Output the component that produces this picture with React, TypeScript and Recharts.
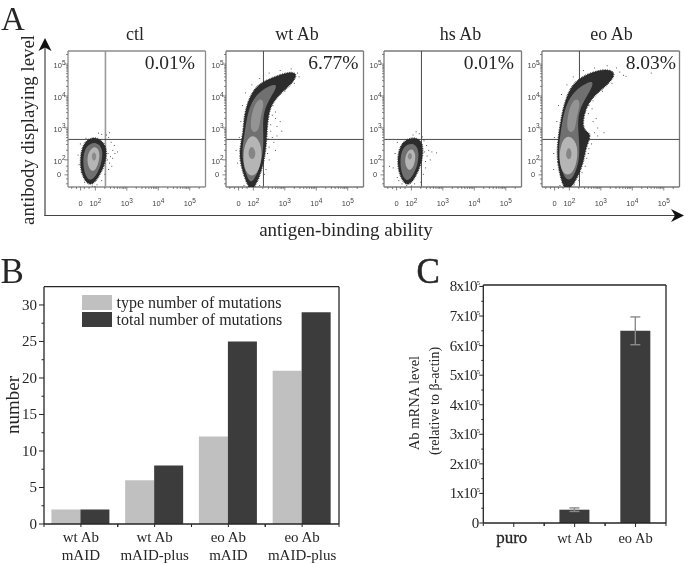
import {
  Bar,
  BarChart,
  ErrorBar,
  Legend,
  ReferenceLine,
  Scatter,
  ScatterChart,
  XAxis,
  YAxis,
} from 'recharts'

const SERIF = '"Liberation Serif", serif'
const SANS = '"Liberation Sans", sans-serif'
const INK = '#262626'

type Pair = [number, number]

// flow plots: axis values are in log decades, 2 = 10^2, 5 = 10^5
const FLOW_X_DOMAIN = [1.13, 5.5]
const FLOW_Y_DOMAIN = [1.15, 5.41]
const ZERO_POS = 1.53
const FLOW_LABELS: Record<number, string> = { 2: '2', 3: '3', 4: '4', 5: '5' }
const DECADE_STEPS = [0.3, 0.48, 0.6, 0.7, 0.78, 0.85, 0.9, 0.95]
const FLOW_TICKS = [
  1.25, 1.4, ZERO_POS, 1.65, 1.8, 2, 3, 4, 5,
  ...[2, 3, 4].flatMap((d) => DECADE_STEPS.map((s) => d + s)),
  5.3,
]
const GATE_X = 2.32
const GATE_Y = 2.64

const ctlOuter: Pair[] = [[2.05, 2.72], [2.36, 2.46], [2.35, 1.98], [2.14, 1.5], [1.84, 1.12], [1.57, 1.48], [1.5, 2.0], [1.6, 2.46], [1.78, 2.66]]
const ctlBody: Pair[] = [[2.02, 2.58], [2.25, 2.36], [2.2, 1.88], [2.02, 1.48], [1.8, 1.3], [1.63, 1.62], [1.6, 2.12], [1.72, 2.46]]
const ctlLight: Pair[] = [[1.98, 2.48], [2.16, 2.26], [2.1, 1.85], [1.93, 1.58], [1.75, 1.78], [1.73, 2.2]]
const ctlCore: Pair[] = [[1.95, 2.3], [2.06, 2.12], [1.97, 1.92], [1.85, 2.08]]
const ctlSpecks: Pair[] = [[2.42, 2.7], [2.5, 2.55], [2.55, 2.3], [2.62, 2.2], [2.7, 2.25], [2.48, 2.1], [2.45, 1.9], [2.4, 2.2], [2.55, 2.05], [2.35, 2.78], [2.2, 2.8], [2.1, 2.84], [2.45, 2.85], [2.42, 1.7], [2.3, 1.55], [2.2, 1.35], [2.05, 1.22], [1.9, 1.18], [1.65, 1.3], [1.55, 1.6], [1.48, 1.85], [1.45, 2.15], [1.52, 2.5], [1.7, 2.68], [2.6, 2.45], [2.38, 2.0], [2.52, 1.8], [1.98, 1.16]]

const wtOuter: Pair[] = [[1.84, 1.12], [1.6, 1.79], [1.55, 2.31], [1.68, 2.83], [1.7, 3.35], [1.85, 3.92], [2.12, 4.36], [2.62, 4.58], [3.17, 4.78], [3.42, 4.68], [3.2, 4.36], [2.85, 4.08], [2.55, 3.72], [2.45, 3.25], [2.42, 2.63], [2.37, 2.1], [2.2, 1.45], [1.98, 1.05]]
const wtBody: Pair[] = [[1.84, 1.3], [1.6, 2.1], [1.72, 2.8], [1.8, 3.4], [1.97, 3.88], [2.28, 4.22], [2.85, 4.45], [2.55, 3.96], [2.33, 3.55], [2.3, 3.05], [2.33, 2.5], [2.25, 1.85], [2.0, 1.3]]
const wtBand: Pair[] = [[1.88, 2.85], [1.94, 3.5], [2.15, 3.95], [2.38, 3.85], [2.22, 3.35], [2.18, 2.85]]
const wtLight: Pair[] = [[1.97, 2.85], [2.24, 2.55], [2.28, 2.05], [2.14, 1.55], [1.86, 1.45], [1.66, 1.85], [1.7, 2.5]]
const wtCore: Pair[] = [[1.97, 2.45], [2.1, 2.22], [2.0, 1.98], [1.84, 2.08], [1.85, 2.35]]
const wtSpecks: Pair[] = [[2.6, 3.4], [2.75, 3.05], [2.9, 2.9], [2.85, 3.2], [2.55, 2.9], [2.7, 2.3], [2.5, 2.4], [2.65, 2.55], [2.45, 2.2], [2.5, 2.0], [2.4, 2.8], [2.55, 3.1], [2.7, 3.3], [2.45, 3.55], [2.62, 3.7], [2.7, 3.5], [2.48, 2.65], [2.6, 2.7], [2.75, 2.75], [2.4, 1.7], [2.35, 1.55], [2.2, 1.2], [1.5, 1.9], [1.45, 2.3], [1.55, 2.7], [1.6, 3.2], [1.65, 3.7], [1.75, 4.1], [1.95, 4.35], [2.2, 4.55], [2.5, 4.72], [2.85, 4.8], [3.2, 4.85], [3.4, 4.72], [3.45, 4.6], [3.3, 4.4], [3.0, 4.15], [1.7, 1.2], [1.85, 1.16], [2.05, 1.18]]

const hsOuter: Pair[] = [[2.13, 2.72], [2.38, 2.52], [2.36, 2.0], [2.14, 1.45], [1.86, 1.12], [1.61, 1.52], [1.55, 2.03], [1.64, 2.44], [1.84, 2.64]]
const hsBody: Pair[] = [[2.05, 2.55], [2.26, 2.32], [2.2, 1.82], [2.02, 1.45], [1.83, 1.3], [1.66, 1.62], [1.64, 2.12], [1.76, 2.44]]
const hsLight: Pair[] = [[2.0, 2.4], [2.15, 2.2], [2.1, 1.84], [1.95, 1.62], [1.8, 1.8], [1.79, 2.16]]
const hsCore: Pair[] = [[1.95, 2.27], [2.05, 2.12], [1.96, 1.96], [1.85, 2.1]]
const hsSpecks: Pair[] = [[2.4, 2.6], [2.48, 2.45], [2.55, 2.3], [2.65, 2.25], [2.8, 2.22], [2.5, 2.12], [2.45, 1.95], [2.42, 2.25], [2.6, 2.0], [2.25, 2.82], [2.15, 2.88], [2.05, 2.78], [2.35, 2.72], [2.45, 1.75], [2.38, 1.55], [2.3, 1.3], [2.1, 1.25], [1.85, 1.2], [1.7, 1.25], [1.55, 1.45], [1.42, 1.75], [1.3, 1.8], [1.48, 2.2], [1.55, 2.55], [1.6, 1.35], [2.0, 1.18]]

const eoOuter: Pair[] = [[1.79, 1.12], [1.6, 1.98], [1.63, 2.6], [1.74, 3.33], [1.9, 4.0], [2.17, 4.46], [2.62, 4.72], [3.17, 4.86], [3.52, 4.72], [3.2, 4.34], [2.82, 4.05], [2.55, 3.7], [2.42, 3.23], [2.46, 2.9], [2.72, 2.82], [2.52, 2.4], [2.47, 1.98], [2.25, 1.42], [2.0, 1.05]]
const eoBody: Pair[] = [[1.88, 1.28], [1.62, 2.08], [1.72, 2.85], [1.82, 3.5], [2.02, 3.98], [2.33, 4.3], [2.85, 4.55], [2.6, 4.05], [2.36, 3.68], [2.26, 3.25], [2.3, 2.7], [2.34, 2.05], [2.15, 1.45]]
const eoBand: Pair[] = [[1.9, 2.85], [1.95, 3.5], [2.15, 3.95], [2.38, 3.85], [2.22, 3.33], [2.18, 2.85]]
const eoLight: Pair[] = [[1.95, 2.82], [2.25, 2.55], [2.27, 2.05], [2.12, 1.55], [1.82, 1.5], [1.66, 1.95], [1.72, 2.52]]
const eoCore: Pair[] = [[1.97, 2.45], [2.1, 2.24], [2.02, 1.95], [1.85, 2.12]]
const eoSpecks: Pair[] = [[2.6, 3.45], [2.75, 3.2], [2.9, 3.0], [3.1, 2.85], [2.85, 3.3], [2.7, 2.5], [2.8, 2.85], [2.9, 2.75], [2.6, 2.2], [2.55, 2.05], [2.62, 2.35], [2.5, 1.8], [2.4, 1.6], [2.3, 1.35], [2.15, 1.22], [1.7, 1.2], [1.85, 1.15], [1.5, 1.7], [1.5, 2.2], [1.52, 2.7], [1.6, 3.2], [1.65, 3.7], [1.75, 4.05], [1.92, 4.35], [2.12, 4.6], [2.45, 4.8], [2.8, 4.88], [3.2, 4.95], [3.5, 4.88], [3.6, 4.75], [3.72, 4.65], [3.35, 4.4], [3.05, 4.15], [2.75, 3.85], [2.62, 3.7], [2.5, 3.5], [2.72, 3.6], [4.6, 4.72], [3.8, 4.62]]

// panel B
const mutationGroups = ['wt Ab|mAID', 'wt Ab|mAID-plus', 'eo Ab|mAID', 'eo Ab|mAID-plus']
const typeMutations = [2, 6, 12, 21]
const totalMutations = [2, 8, 25, 29]
const mutationTicks = [0, 2.5, 5, 7.5, 10, 12.5, 15, 17.5, 20, 22.5, 25, 27.5, 30]
const MUTATION_MAX = 32.5

// panel C
const mrnaGroups = ['puro', 'wt Ab', 'eo Ab']
const mrnaLevels = [0, 45000, 650000]
const mrnaErrors = [null, 6000, 47000]
const mrnaTicks = [0, 50000, 100000, 150000, 200000, 250000, 300000, 350000, 400000, 450000, 500000, 550000, 600000, 650000, 700000, 750000, 800000]
const MRNA_MAX = 805000

const mutationData = mutationGroups.map((group, i) => ({
  group,
  type: typeMutations[i],
  total: totalMutations[i],
}))
const mrnaData = mrnaGroups.map((group, i) => ({ group, level: mrnaLevels[i], err: mrnaErrors[i] }))

const toPoints = (pairs: Pair[]) => pairs.map(([x, y]) => ({ x, y }))

function FlowXTick({ x, y, payload }: any) {
  const v = payload.value
  const sup = FLOW_LABELS[v]
  const major = sup !== undefined || v === ZERO_POS
  return (
    <g fontFamily={SANS} fontSize={7.5} fill="#444">
      <line x1={x} x2={x} y1={y} y2={y + (major ? 3.5 : 2)} stroke="#555" strokeWidth={0.7} />
      {v === ZERO_POS && <text x={x} y={y + 19} textAnchor="middle">0</text>}
      {sup && (
        <text x={x} y={y + 19} textAnchor="middle">
          10<tspan dy={-3.5} fontSize={6.5}>{sup}</tspan>
        </text>
      )}
    </g>
  )
}

function FlowYTick({ x, y, payload }: any) {
  const v = payload.value
  const sup = FLOW_LABELS[v]
  const major = sup !== undefined || v === ZERO_POS
  return (
    <g fontFamily={SANS} fontSize={7.5} fill="#444">
      <line x1={x} x2={x - (major ? 3.5 : 2)} y1={y} y2={y} stroke="#555" strokeWidth={0.7} />
      {v === ZERO_POS && <text x={x - 9} y={y + 2.5} textAnchor="middle">0</text>}
      {sup && (
        <text x={x - 2.5} y={y + 4} textAnchor="end">
          10<tspan dy={-3.5} fontSize={6.5}>{sup}</tspan>
        </text>
      )}
    </g>
  )
}

interface FlowLayer {
  pairs: Pair[]
  fill: string
  edge?: boolean
}

function FlowPlot({ left, layers, specks, frame }: { left: number; layers: FlowLayer[]; specks: Pair[]; frame: string }) {
  const thick = frame === '#8c8c8c'
  return (
    <div style={{ position: 'absolute', left: left - 30, top: 45.5 }}>
      <ScatterChart width={170.5} height={170} margin={{ top: 5, right: 3, left: 0, bottom: 0 }}>
        <XAxis
          type="number"
          dataKey="x"
          domain={FLOW_X_DOMAIN}
          ticks={FLOW_TICKS}
          interval={0}
          allowDataOverflow
          height={29}
          tickSize={0}
          tickMargin={0}
          tickLine={false}
          tick={FlowXTick}
          stroke={frame}
          strokeWidth={1.3}
        />
        <YAxis
          type="number"
          dataKey="y"
          domain={FLOW_Y_DOMAIN}
          ticks={FLOW_TICKS.filter((t) => t < 5.35)}
          interval={0}
          allowDataOverflow
          width={30}
          tickSize={0}
          tickMargin={0}
          tickLine={false}
          tick={FlowYTick}
          stroke={frame}
          strokeWidth={1.3}
        />
        <ReferenceLine y={FLOW_Y_DOMAIN[1]} stroke={frame} strokeWidth={1.3} />
        <ReferenceLine x={FLOW_X_DOMAIN[1]} stroke={frame} strokeWidth={1.3} />
        <Scatter
          data={toPoints(specks)}
          isAnimationActive={false}
          shape={(p: any) => <rect x={p.cx - 0.4} y={p.cy - 0.4} width={0.9} height={0.9} fill="#333" />}
        />
        {layers.map((layer, i) => (
          <Scatter
            key={i}
            data={toPoints(layer.pairs)}
            isAnimationActive={false}
            shape={() => <g />}
            lineJointType="basisClosed"
            line={{
              fill: layer.fill,
              stroke: layer.edge ? '#222' : 'none',
              strokeWidth: layer.edge ? 1.6 : 0,
              strokeDasharray: layer.edge ? '0.7 1' : undefined,
            }}
          />
        ))}
        <ReferenceLine x={GATE_X} stroke={thick ? '#999' : '#4a4a4a'} strokeWidth={thick ? 1.6 : 1} />
        <ReferenceLine y={GATE_Y} stroke="#4a4a4a" strokeWidth={1} />
      </ScatterChart>
    </div>
  )
}

function MutationTick({ x, y, payload }: any) {
  const [a, b] = String(payload.value).split('|')
  const half = 36.9
  return (
    <g fontFamily={SERIF} fontSize={15} fill={INK} textAnchor="middle">
      <line x1={x} x2={x} y1={y} y2={y + 3} stroke={INK} />
      <line x1={x - half} x2={x - half} y1={y} y2={y + 3} stroke={INK} />
      <line x1={x + half} x2={x + half} y1={y} y2={y + 3} stroke={INK} />
      <text x={x} y={y + 18}>{a}</text>
      <text x={x} y={y + 36}>{b}</text>
    </g>
  )
}

function MutationYTick({ x, y, payload }: any) {
  const major = payload.value % 5 === 0
  return (
    <g>
      <line x1={x} x2={x - (major ? 5 : 2.5)} y1={y} y2={y} stroke={INK} />
      {major && (
        <text x={x - 7} y={y + 5} textAnchor="end" fontFamily={SERIF} fontSize={15} fill={INK}>
          {payload.value}
        </text>
      )}
    </g>
  )
}

function MrnaTick({ x, y, payload }: any) {
  const half = 30.45
  const puro = payload.value === 'puro'
  return (
    <g fontFamily={SERIF} fill={INK} textAnchor="middle">
      <line x1={x} x2={x} y1={y} y2={y + 4} stroke={INK} />
      <line x1={x - half} x2={x - half} y1={y} y2={y + 3} stroke={INK} />
      <line x1={x + half} x2={x + half} y1={y} y2={y + 3} stroke={INK} />
      <text
        x={puro ? x - 2 : x}
        y={y + 20}
        fontSize={puro ? 17 : 14.5}
        stroke={puro ? INK : 'none'}
        strokeWidth={puro ? 0.3 : 0}
      >
        {payload.value}
      </text>
    </g>
  )
}

function MrnaYTick({ x, y, payload }: any) {
  const major = payload.value % 100000 === 0
  const n = payload.value / 100000
  return (
    <g>
      <line x1={x} x2={x - (major ? 4 : 2)} y1={y} y2={y} stroke={INK} />
      {major && (
        <text
          x={x - 4}
          y={y + 5}
          textAnchor="end"
          fontFamily={SERIF}
          fontSize={15}
          fill={INK}
          letterSpacing={n === 0 ? 0 : -0.8}
        >
          {n === 0 ? '0' : `${n}x10`}
          {n !== 0 && <tspan dy={-6} fontSize={7}>5</tspan>}
        </text>
      )}
    </g>
  )
}

function MutationLegend({ payload }: any) {
  return (
    <div style={{ fontFamily: SERIF, fontSize: 16, color: INK, lineHeight: '17px' }}>
      {(payload ?? []).map((item: any) => (
        <div key={item.value} style={{ display: 'flex', alignItems: 'center', height: 16.7 }}>
          <span style={{ width: 30, height: 15, background: item.color, marginRight: 5, display: 'inline-block' }} />
          {item.value}
        </div>
      ))}
    </div>
  )
}

const titles = [
  { text: 'ctl', x: 135 },
  { text: 'wt Ab', x: 297 },
  { text: 'hs Ab', x: 460.5 },
  { text: 'eo Ab', x: 611.5 },
]
const percents = [
  { text: '0.01%', x: 195 },
  { text: '6.77%', x: 358.5 },
  { text: '0.01%', x: 514 },
  { text: '8.03%', x: 676 },
]

export default function App() {
  return (
    <div style={{ position: 'absolute', left: 0, top: 0, width: 685, height: 564, background: '#fff', overflow: 'hidden', filter: 'blur(0.35px)' }}>
      <FlowPlot
        left={67.5}
        frame="#8c8c8c"
        specks={ctlSpecks}
        layers={[
          { pairs: ctlOuter, fill: '#2c2c2c', edge: true },
          { pairs: ctlBody, fill: '#707070' },
          { pairs: ctlLight, fill: '#b5b5b5' },
          { pairs: ctlCore, fill: '#8a8a8a' },
        ]}
      />
      <FlowPlot
        left={226}
        frame="#7a7a7a"
        specks={wtSpecks}
        layers={[
          { pairs: wtOuter, fill: '#2c2c2c', edge: true },
          { pairs: wtBody, fill: '#707070' },
          { pairs: wtBand, fill: '#949494' },
          { pairs: wtLight, fill: '#b5b5b5' },
          { pairs: wtCore, fill: '#858585' },
        ]}
      />
      <FlowPlot
        left={383.5}
        frame="#7a7a7a"
        specks={hsSpecks}
        layers={[
          { pairs: hsOuter, fill: '#2c2c2c', edge: true },
          { pairs: hsBody, fill: '#707070' },
          { pairs: hsLight, fill: '#b5b5b5' },
          { pairs: hsCore, fill: '#8a8a8a' },
        ]}
      />
      <FlowPlot
        left={542}
        frame="#7a7a7a"
        specks={eoSpecks}
        layers={[
          { pairs: eoOuter, fill: '#2c2c2c', edge: true },
          { pairs: eoBody, fill: '#707070' },
          { pairs: eoBand, fill: '#949494' },
          { pairs: eoLight, fill: '#b5b5b5' },
          { pairs: eoCore, fill: '#858585' },
        ]}
      />

      <div style={{ position: 'absolute', left: 0, top: 280 }}>
        <BarChart
          width={345}
          height={284}
          data={mutationData}
          margin={{ top: 6.7, right: 5, left: 0, bottom: 0 }}
          barGap={0}
          barCategoryGap={7.4}
        >
          <XAxis
            dataKey="group"
            interval={0}
            height={40}
            tickSize={0}
            tickMargin={0}
            tickLine={false}
            tick={MutationTick}
            stroke={INK}
            strokeWidth={1.3}
          />
          <YAxis
            domain={[0, MUTATION_MAX]}
            ticks={mutationTicks}
            interval={0}
            allowDataOverflow
            width={44}
            tickSize={0}
            tickMargin={0}
            tickLine={false}
            tick={MutationYTick}
            stroke={INK}
            strokeWidth={1.3}
          />
          <YAxis yAxisId="right" orientation="right" width={1} tick={false} tickLine={false} stroke={INK} strokeWidth={1.3} />
          <ReferenceLine y={MUTATION_MAX} stroke={INK} strokeWidth={1.3} />
          <Legend
            layout="vertical"
            align="center"
            verticalAlign="middle"
            itemSorter={null}
            content={MutationLegend}
            wrapperStyle={{ left: 81.5, top: 14, width: 220 }}
          />
          <Bar dataKey="type" name="type number of mutations" fill="#c0c0c0" isAnimationActive={false} />
          <Bar dataKey="total" name="total number of mutations" fill="#3c3c3c" isAnimationActive={false} />
        </BarChart>
      </div>

      <div style={{ position: 'absolute', left: 420, top: 270 }}>
        <BarChart
          width={252}
          height={294}
          data={mrnaData}
          margin={{ top: 15, right: 5, left: 0, bottom: 0 }}
          barCategoryGap="25%"
        >
          <XAxis
            dataKey="group"
            interval={0}
            height={41}
            tickSize={0}
            tickMargin={0}
            tickLine={false}
            tick={MrnaTick}
            stroke={INK}
            strokeWidth={1.3}
          />
          <YAxis
            domain={[0, MRNA_MAX]}
            ticks={mrnaTicks}
            interval={0}
            allowDataOverflow
            width={63.3}
            tickSize={0}
            tickMargin={0}
            tickLine={false}
            tick={MrnaYTick}
            stroke={INK}
            strokeWidth={1.3}
          />
          <YAxis yAxisId="right" orientation="right" width={1} tick={false} tickLine={false} stroke={INK} strokeWidth={1.3} />
          <ReferenceLine y={MRNA_MAX} stroke={INK} strokeWidth={1.3} />
          <Bar dataKey="level" fill="#3c3c3c" isAnimationActive={false}>
            <ErrorBar dataKey="err" width={5} stroke="#8a8a8a" strokeWidth={1.4} isAnimationActive={false} />
          </Bar>
        </BarChart>
      </div>

      <svg width={685} height={564} style={{ position: 'absolute', left: 0, top: 0, pointerEvents: 'none' }} fontFamily={SERIF} fill={INK}>
        <text x={1} y={29.6} fontSize={33}>A</text>
        <text x={0.5} y={282.5} fontSize={35}>B</text>
        <text x={416.5} y={283} fontSize={35} stroke={INK} strokeWidth={0.5}>C</text>
        {titles.map((t) => (
          <text key={t.x} x={t.x} y={40} fontSize={18} textAnchor="middle">{t.text}</text>
        ))}
        {percents.map((t) => (
          <text key={t.x} x={t.x} y={69} fontSize={19.5} textAnchor="end">{t.text}</text>
        ))}
        <line x1={45} x2={45} y1={46} y2={216} stroke="#444" strokeWidth={1.2} />
        <line x1={44.5} x2={676} y1={215.5} y2={215.5} stroke="#444" strokeWidth={1.2} />
        <polygon points="45,38 51.5,51 45,47.5 38.5,51" fill="#111" />
        <polygon points="684,215.5 671,209 675,215.5 671,222" fill="#111" />
        <text x={34} y={130} fontSize={18.8} textAnchor="middle" transform="rotate(-90 34 130)">antibody displaying level</text>
        <text x={346} y={236} fontSize={19} textAnchor="middle">antigen-binding ability</text>
        <text x={19} y={405} fontSize={19} textAnchor="middle" transform="rotate(-90 19 405)">number</text>
        <text x={419} y={403} fontSize={14.5} textAnchor="middle" transform="rotate(-90 419 403)">Ab mRNA level</text>
        <text x={439} y={401} fontSize={14} textAnchor="middle" transform="rotate(-90 439 401)">(relative to β-actin)</text>
      </svg>
    </div>
  )
}
